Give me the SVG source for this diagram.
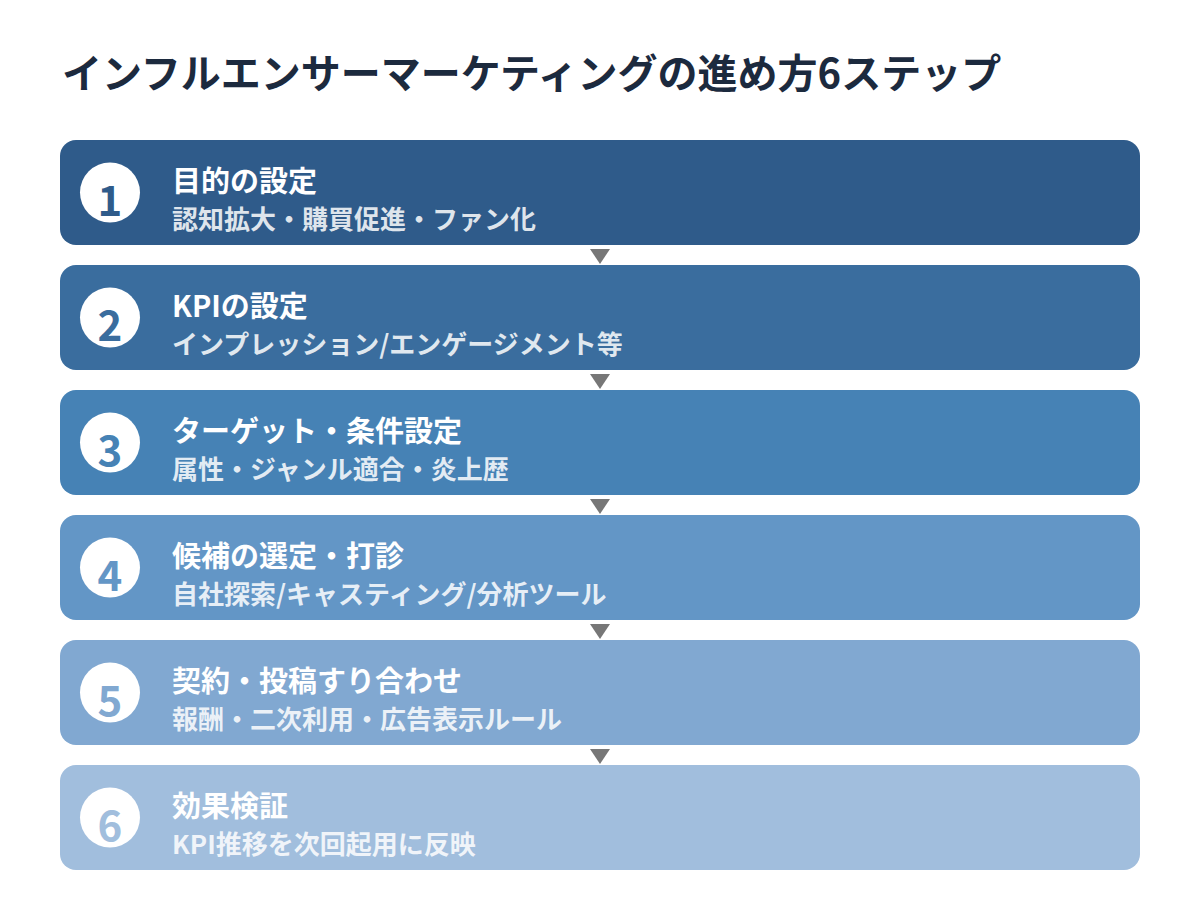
<svg xmlns="http://www.w3.org/2000/svg" width="1200" height="900" viewBox="0 0 1200 900">
<style>
.hd{font-family:"Noto Sans CJK JP","Noto Sans",sans-serif;font-weight:700;font-size:40px;fill:#1c2a3e}
.t{font-family:"Noto Sans CJK JP","Noto Sans",sans-serif;font-weight:700;font-size:29px;fill:#ffffff}
.s{font-family:"Noto Sans CJK JP","Noto Sans",sans-serif;font-weight:700;font-size:26px;fill:#ffffff;fill-opacity:0.85}
.n{font-family:"Noto Sans CJK JP","Noto Sans",sans-serif;font-weight:700;font-size:42px;text-anchor:middle}
.c{fill:#ffffff}
.a{fill:#777777}
</style>
<rect width="1200" height="900" fill="#ffffff"/>
<text class="hd" x="62" y="88">インフルエンサーマーケティングの進め方6ステップ</text>
<g id="step1">
<rect x="60" y="140" width="1080" height="105" rx="16" fill="#2f5b8a"/>
<circle class="c" cx="110" cy="192.5" r="30"/>
<text class="n" x="110" y="216" fill="#2f5b8a">1</text>
<text class="t" x="172" y="192">目的の設定</text>
<text class="s" x="172" y="229">認知拡大・購買促進・ファン化</text>
</g>
<g id="step2">
<rect x="60" y="265" width="1080" height="105" rx="16" fill="#3a6d9e"/>
<circle class="c" cx="110" cy="317.5" r="30"/>
<text class="n" x="110" y="341" fill="#3a6d9e">2</text>
<text class="t" x="172" y="317">KPIの設定</text>
<text class="s" x="172" y="354">インプレッション/エンゲージメント等</text>
</g>
<g id="step3">
<rect x="60" y="390" width="1080" height="105" rx="16" fill="#4682b5"/>
<circle class="c" cx="110" cy="442.5" r="30"/>
<text class="n" x="110" y="466" fill="#4682b5">3</text>
<text class="t" x="172" y="442">ターゲット・条件設定</text>
<text class="s" x="172" y="479">属性・ジャンル適合・炎上歴</text>
</g>
<g id="step4">
<rect x="60" y="515" width="1080" height="105" rx="16" fill="#6396c6"/>
<circle class="c" cx="110" cy="567.5" r="30"/>
<text class="n" x="110" y="591" fill="#6396c6">4</text>
<text class="t" x="172" y="567">候補の選定・打診</text>
<text class="s" x="172" y="604">自社探索/キャスティング/分析ツール</text>
</g>
<g id="step5">
<rect x="60" y="640" width="1080" height="105" rx="16" fill="#81a8d1"/>
<circle class="c" cx="110" cy="692.5" r="30"/>
<text class="n" x="110" y="716" fill="#81a8d1">5</text>
<text class="t" x="172" y="692">契約・投稿すり合わせ</text>
<text class="s" x="172" y="729">報酬・二次利用・広告表示ルール</text>
</g>
<g id="step6">
<rect x="60" y="765" width="1080" height="105" rx="16" fill="#a1bedd"/>
<circle class="c" cx="110" cy="817.5" r="30"/>
<text class="n" x="110" y="841" fill="#a1bedd">6</text>
<text class="t" x="172" y="817">効果検証</text>
<text class="s" x="172" y="854">KPI推移を次回起用に反映</text>
</g>
<g id="connectors">
<polygon class="a" points="590,249 610,249 600,264"/>
<polygon class="a" points="590,374 610,374 600,389"/>
<polygon class="a" points="590,499 610,499 600,514"/>
<polygon class="a" points="590,624 610,624 600,639"/>
<polygon class="a" points="590,749 610,749 600,764"/>
</g>
</svg>
